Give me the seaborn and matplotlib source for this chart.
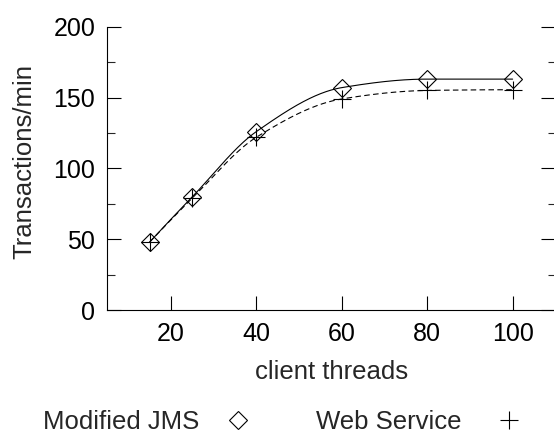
import numpy as np
import matplotlib
matplotlib.use("Agg")
import matplotlib.pyplot as plt
from matplotlib.lines import Line2D
from matplotlib.ticker import MultipleLocator
import seaborn as sns

# Throughput measurements
threads = [15, 25, 40, 60, 80, 100]
jms_tpm = [48, 80, 126, 157, 163, 163]
ws_tpm = [48, 79, 122, 149, 155, 155.5]
series_names = ["Modified JMS", "Web Service"]
y_ticks = [0, 50, 100, 150, 200]
x_ticks = [20, 40, 60, 80, 100]


def pchip(x, y, xq):
    """Monotone piecewise cubic Hermite curve through (x, y)."""
    x = np.asarray(x, float)
    y = np.asarray(y, float)
    h = np.diff(x)
    d = np.diff(y) / h
    n = len(x)
    m = np.zeros(n)
    for k in range(1, n - 1):
        if d[k - 1] * d[k] <= 0:
            m[k] = 0.0
        else:
            w1 = 2 * h[k] + h[k - 1]
            w2 = h[k] + 2 * h[k - 1]
            m[k] = (w1 + w2) / (w1 / d[k - 1] + w2 / d[k])

    def end_slope(h0, h1, d0, d1):
        s = ((2 * h0 + h1) * d0 - h0 * d1) / (h0 + h1)
        if np.sign(s) != np.sign(d0):
            s = 0.0
        elif np.sign(d0) != np.sign(d1) and abs(s) > abs(3 * d0):
            s = 3 * d0
        return s

    m[0] = end_slope(h[0], h[1], d[0], d[1])
    m[-1] = end_slope(h[-1], h[-2], d[-1], d[-2])
    idx = np.clip(np.searchsorted(x, xq) - 1, 0, n - 2)
    t = (xq - x[idx]) / h[idx]
    h00 = 2 * t**3 - 3 * t**2 + 1
    h10 = t**3 - 2 * t**2 + t
    h01 = -2 * t**3 + 3 * t**2
    h11 = t**3 - t**2
    return (h00 * y[idx] + h10 * h[idx] * m[idx]
            + h01 * y[idx + 1] + h11 * h[idx] * m[idx + 1])


sns.set_style("ticks")
plt.rcParams["font.family"] = ["Liberation Sans", "DejaVu Sans"]
plt.rcParams["font.size"] = 18

W, H = 554, 433
fig = plt.figure(figsize=(W / 100, H / 100), dpi=100)
ax = fig.add_axes([107 / W, (H - 310) / H, (555.3 - 107) / W, (310 - 26.7) / H])

xs = np.linspace(threads[0], threads[-1], 400)
sns.lineplot(x=xs, y=pchip(threads, jms_tpm, xs), ax=ax, color="black",
             linewidth=0.8, linestyle="-")
sns.lineplot(x=xs, y=pchip(threads, ws_tpm, xs), ax=ax, color="black",
             linewidth=0.8, dashes=False, linestyle=(0, (5, 3)))

diamond_style = dict(linestyle="none", marker="D", markersize=9,
                     markerfacecolor="none", markeredgecolor="black",
                     markeredgewidth=0.8)
plus_style = dict(linestyle="none", marker="+", markersize=12.5,
                  markeredgecolor="black", markeredgewidth=0.8)

ax.plot(threads, jms_tpm, **diamond_style)
ax.plot(threads, ws_tpm, **plus_style)

ax.set_xlim(5, 110)
ax.set_ylim(0, 200)
ax.set_xticks(x_ticks)
ax.set_yticks(y_ticks)
ax.yaxis.set_minor_locator(MultipleLocator(25))

for side in ("top", "right"):
    ax.spines[side].set_visible(False)
for side in ("left", "bottom"):
    ax.spines[side].set_linewidth(0.8)
    ax.spines[side].set_color("black")

ax.tick_params(axis="both", which="major", direction="in", length=9.8,
               width=0.8, colors="black", labelsize=18, pad=8.5)
ax.tick_params(axis="y", which="both", right=True, direction="in")
ax.tick_params(axis="y", which="minor", length=5.4, width=0.8)

ax.set_xlabel("client threads", fontsize=18.5, labelpad=10)
ax.set_ylabel("Transactions/min", fontsize=18.5)
ax.yaxis.set_label_coords(-0.158, 0.523)

# Key below the plot: label first, symbol after it
key_y = 1 - 422 / H
leg1 = fig.legend([Line2D([], [], **diamond_style)], [series_names[0]],
                  loc="center left", frameon=False, markerfirst=False,
                  handlelength=1.0, handletextpad=1.02, fontsize=18.5,
                  borderpad=0, borderaxespad=0,
                  bbox_to_anchor=(42.7 / W, key_y),
                  bbox_transform=fig.transFigure)
leg2 = fig.legend([Line2D([], [], **plus_style)], [series_names[1]],
                  loc="center left", frameon=False, markerfirst=False,
                  handlelength=1.0, handletextpad=1.33, fontsize=18.5,
                  borderpad=0, borderaxespad=0,
                  bbox_to_anchor=(316 / W, key_y),
                  bbox_transform=fig.transFigure)

fig.savefig("out.png", dpi=100)
